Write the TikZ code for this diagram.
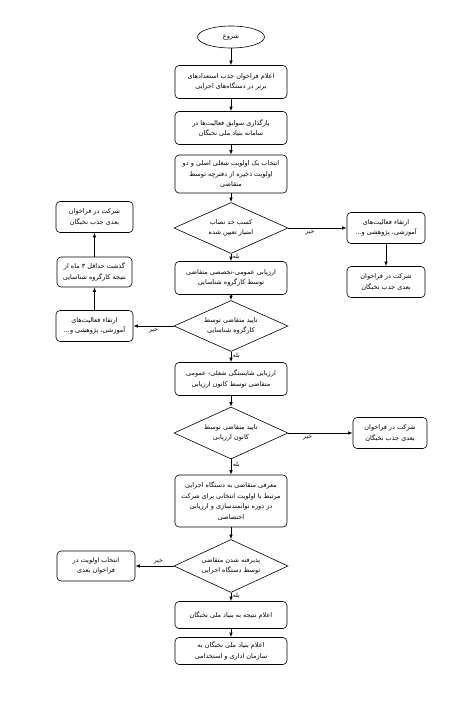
\documentclass[tikz,border=0pt]{standalone}
\usepackage{fontspec}
\newfontfamily\arabicfont[Script=Arabic]{DejaVu Sans}
\TeXXeTstate=1
\usetikzlibrary{shapes.geometric, arrows.meta}
\newcommand{\fa}[1]{\beginR #1\endR}
\tikzset{
	box/.style = {draw, rounded corners=4pt, minimum width=112pt, minimum height=33pt, align=center, inner sep=1pt, line width=0.6pt, font=\arabicfont\fontsize{6.5}{10.5}\selectfont},
	sidebox/.style = {box, minimum width=77pt, minimum height=31pt},
	cond/.style = {draw, diamond, aspect=2.2, minimum width=114pt, minimum height=51pt, inner sep=0pt, align=center, line width=0.6pt, font=\arabicfont\fontsize{6.5}{10.5}\selectfont},
	flow/.style = {-{Latex[length=4.5pt, width=3.5pt]}, line width=0.8pt},
	ans/.style = {font=\arabicfont\fontsize{6}{7}\selectfont, inner sep=1.5pt}
}
\begin{document}
\begin{tikzpicture} [x=1pt, y=-1pt]
			\useasboundingbox (0,0) rectangle (455,702);
			%%% Colonna principale
			\node[draw, ellipse, minimum width=67pt, minimum height=22pt, line width=0.6pt, font=\arabicfont\fontsize{6.5}{8}\selectfont] (start) at (231,37) {\fa{شروع}};
			\node[box] (call) at (231,82) {\fa{اعلام فراخوان جذب استعدادهای}\\\fa{برتر در دستگاه‌های اجرایی}};
			\node[box] (upload) at (231,128) {\fa{بارگذاری سوابق فعالیت‌ها در}\\\fa{سامانه بنیاد ملی نخبگان}};
			\node[box, minimum height=38pt] (choose) at (231,174) {\fa{انتخاب یک اولویت شغلی اصلی و دو}\\\fa{اولویت ذخیره از دفترچه توسط}\\\fa{متقاضی}};
			\node[cond] (score) at (231,228) {\fa{کسب حد نصاب}\\\fa{امتیاز تعیین شده}};
			\node[box] (evalwg) at (231,278) {\fa{ارزیابی عمومی-تخصصی متقاضی}\\\fa{توسط کارگروه شناسایی}};
			\node[cond] (okwg) at (231,326) {\fa{تایید متقاضی توسط}\\\fa{کارگروه شناسایی}};
			\node[box] (evalac) at (231,379) {\fa{ارزیابی شایستگی شغلی- عمومی}\\\fa{متقاضی توسط کانون ارزیابی}};
			\node[cond, minimum height=52pt] (okac) at (231,433) {\fa{تایید متقاضی توسط}\\\fa{کانون ارزیابی}};
			\node[box, minimum height=52pt] (intro) at (231,501) {\fa{معرفی متقاضی به دستگاه اجرایی}\\\fa{مرتبط  با اولویت انتخابی برای شرکت}\\\fa{در دوره توانمندسازی و ارزیابی}\\\fa{اختصاصی}};
			\node[cond, minimum height=53pt] (accept) at (231,566) {\fa{پذیرفته شدن متقاضی}\\\fa{توسط دستگاه اجرایی}};
			\node[box, minimum height=27pt] (notify) at (231,615) {\fa{اعلام نتیجه به بنیاد ملی نخبگان}};
			\node[box, minimum height=27pt] (hire) at (231,651) {\fa{اعلام بنیاد ملی نخبگان به}\\\fa{سازمان اداری و استخدامی}};
			%%% Rami a destra
			\node[sidebox, minimum width=78pt] (upR) at (386,228) {\fa{ارتقاء فعالیت‌های}\\\fa{آموزشی، پژوهشی و...}};
			\node[sidebox, minimum width=78pt] (nextR) at (386,282) {\fa{شرکت در فراخوان}\\\fa{بعدی جذب نخبگان}};
			\node[sidebox, minimum width=74pt] (nextAC) at (390,433) {\fa{شرکت در فراخوان}\\\fa{بعدی جذب نخبگان}};
			%%% Rami a sinistra
			\node[sidebox] (upL) at (94.5,326) {\fa{ارتقاء فعالیت‌های}\\\fa{آموزشی، پژوهشی و...}};
			\node[sidebox, minimum width=75pt, minimum height=30pt] (wait) at (94.5,272) {\fa{گذشت حداقل ۳ ماه از}\\\fa{نتیجه کارگروه شناسایی}};
			\node[sidebox] (nextL) at (94.5,217) {\fa{شرکت در فراخوان}\\\fa{بعدی جذب نخبگان}};
			\node[sidebox, minimum width=78pt, minimum height=30pt] (prio) at (96,566) {\fa{انتخاب اولویت در}\\\fa{فراخوان بعدی}};
			%%% Frecce principali
			\draw[flow] (start) -- (call);
			\draw[flow] (call) -- (upload);
			\draw[flow] (upload) -- (choose);
			\draw[flow] (choose) -- (score);
			\draw[flow] (score) -- node[ans, right, pos=0.35] {\fa{بله}} (evalwg);
			\draw[flow] (evalwg) -- (okwg);
			\draw[flow] (okwg) -- node[ans, right, pos=0.35] {\fa{بله}} (evalac);
			\draw[flow] (evalac) -- (okac);
			\draw[flow] (okac) -- node[ans, right, pos=0.35] {\fa{بله}} (intro);
			\draw[flow] (intro) -- (accept);
			\draw[flow] (accept) -- node[ans, right, pos=0.35] {\fa{بله}} (notify);
			\draw[flow] (notify) -- (hire);
			%%% Frecce "no"
			\draw[flow] (score) -- node[ans, below, pos=0.37] {\fa{خیر}} (upR);
			\draw[flow] (upR) -- (nextR);
			\draw[flow] (okwg) -- node[ans, below, pos=0.5] {\fa{خیر}} (upL);
			\draw[flow] (upL) -- (wait);
			\draw[flow] (wait) -- (nextL);
			\draw[flow] (okac) -- node[ans, below, pos=0.3] {\fa{خیر}} (nextAC);
			\draw[flow] (accept) -- node[ans, above, pos=0.4] {\fa{خیر}} (prio);
		\end{tikzpicture}
\end{document}
